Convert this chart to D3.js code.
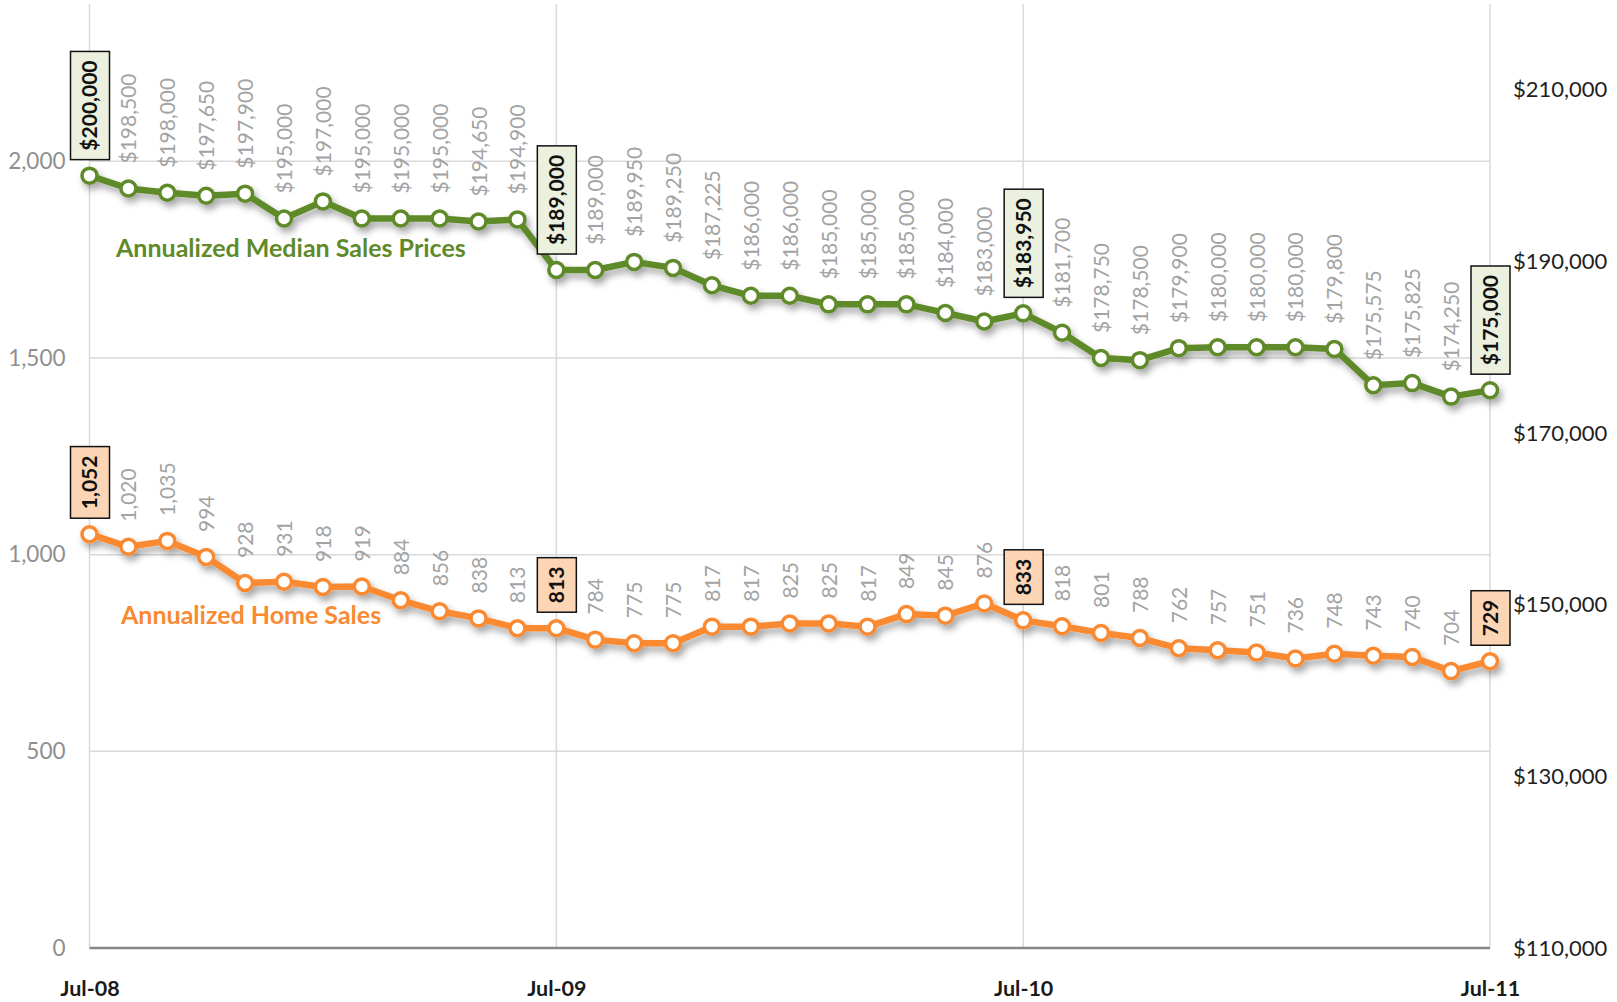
<!DOCTYPE html>
<html>
<head>
<meta charset="utf-8">
<script src="https://cdn.jsdelivr.net/npm/d3@7"></script>
<style>
  body { margin: 0; background: #fff; }
  svg { display: block; font-family: Lato, "Open Sans", sans-serif; }
</style>
</head>
<body>
<div class="chart"></div>
<script>
// monthly points, Jul-08 .. Jul-11
var months = d3.timeMonth.range(new Date(2008, 6, 1), new Date(2011, 7, 1));

var prices = [200000, 198500, 198000, 197650, 197900, 195000, 197000, 195000, 195000, 195000, 194650, 194900,
              189000, 189000, 189950, 189250, 187225, 186000, 186000, 185000, 185000, 185000, 184000, 183000,
              183950, 181700, 178750, 178500, 179900, 180000, 180000, 180000, 179800, 175575, 175825, 174250,
              175000];

var sales = [1052, 1020, 1035, 994, 928, 931, 918, 919, 884, 856, 838, 813,
             813, 784, 775, 775, 817, 817, 825, 825, 817, 849, 845, 876,
             833, 818, 801, 788, 762, 757, 751, 736, 748, 743, 740, 704,
             729];

// points with a boxed label
var boxed = [0, 12, 24, 36];

var leftTicks = [0, 500, 1000, 1500, 2000];
var rightTicks = [110000, 130000, 150000, 170000, 190000, 210000];
var xTicks = [months[0], months[12], months[24], months[36]];

var seriesNames = ["Annualized Median Sales Prices", "Annualized Home Sales"];

drawChart();

function drawChart(){

    var w = 1617, h = 1002;
    var left = 89.5, right = 1490, top = 4, bottom = 948;

    var green = "#5f8a29", orange = "#f98a32";

    var svg = d3.select("div.chart")
              .append("svg")
              .attr("width", w)
              .attr("height", h);

    //soft shadow under the lines
    var f = svg.append("defs").append("filter")
        .attr("id", "shadow")
        .attr("x", "-5%").attr("y", "-20%")
        .attr("width", "110%").attr("height", "140%");
    f.append("feDropShadow")
        .attr("dx", 3).attr("dy", 5)
        .attr("stdDeviation", 3.5)
        .attr("flood-color", "#000")
        .attr("flood-opacity", 0.35);

    var x = d3.scalePoint().domain(months).range([left, right]);
    var yL = d3.scaleLinear().domain([0, 2400]).range([bottom, top]);
    var yR = d3.scaleLinear().domain([110000, 220000]).range([bottom, top]);

    //gridlines
    svg.append("g").selectAll("line.h")
        .data(leftTicks.filter(d => d > 0))
        .enter().append("line")
            .attr("x1", left).attr("x2", right)
            .attr("y1", d => yL(d)).attr("y2", d => yL(d))
            .attr("stroke", "#d9d9d9").attr("stroke-width", 1.5);

    svg.append("g").selectAll("line.v")
        .data(xTicks)
        .enter().append("line")
            .attr("x1", d => x(d)).attr("x2", d => x(d))
            .attr("y1", top).attr("y2", bottom)
            .attr("stroke", "#d9d9d9").attr("stroke-width", 1.5);

    //axes
    var axL = svg.append("g")
        .attr("transform", `translate(${left},0)`)
        .call(d3.axisLeft(yL).tickValues(leftTicks).tickSize(0).tickPadding(24).tickFormat(d3.format(",")));
    axL.select(".domain").remove();
    axL.selectAll("text").attr("fill", "#8f8f8f").style("font-size", "22.5px").style("font-family", "Lato");

    var axR = svg.append("g")
        .attr("transform", `translate(${right},0)`)
        .call(d3.axisRight(yR).tickValues(rightTicks).tickSize(0).tickPadding(23).tickFormat(d3.format("$,")));
    axR.select(".domain").remove();
    axR.selectAll("text").attr("fill", "#1f1f1f").style("font-size", "22px").style("font-family", "Lato");

    var axB = svg.append("g")
        .attr("transform", `translate(0,${bottom})`)
        .call(d3.axisBottom(x).tickValues(xTicks).tickSize(0).tickFormat(d3.timeFormat("%b-%y")));
    axB.select(".domain").remove();
    axB.selectAll("text")
        .attr("y", 48).attr("dy", 0)
        .attr("fill", "#1a1a1a")
        .style("font-size", "21.5px").style("font-weight", "bold").style("font-family", "Lato");

    svg.append("line")
        .attr("x1", left).attr("x2", right)
        .attr("y1", bottom).attr("y2", bottom)
        .attr("stroke", "#868686").attr("stroke-width", 2.5);

    drawSeries(svg, prices, d => yR(d), green, "#ebf1de", d3.format("$,"));
    drawSeries(svg, sales, d => yL(d), orange, "#fcd5b5", d3.format(","));

    //series names
    svg.append("text")
        .attr("x", 116).attr("y", 257)
        .attr("fill", green)
        .style("font-size", "25px").style("font-weight", "bold")
        .text(seriesNames[0]);

    svg.append("text")
        .attr("x", 121).attr("y", 624)
        .attr("fill", orange)
        .style("font-size", "25px").style("font-weight", "bold")
        .text(seriesNames[1]);

    function drawSeries(svg, values, yf, color, boxFill, fmt){
        var g = svg.append("g").attr("filter", "url(#shadow)");

        var line = d3.line()
            .x((d, i) => x(months[i]))
            .y(d => yf(d));

        g.append("path")
            .datum(values)
            .attr("d", line)
            .attr("fill", "none")
            .attr("stroke", color)
            .attr("stroke-width", 6.5)
            .attr("stroke-linejoin", "round");

        g.selectAll("circle")
            .data(values)
            .enter().append("circle")
                .attr("cx", (d, i) => x(months[i]))
                .attr("cy", d => yf(d))
                .attr("r", 7.5)
                .attr("fill", "#fff")
                .attr("stroke", color)
                .attr("stroke-width", 3.5);

        //value labels, rotated
        var lg = svg.append("g");
        values.forEach(function(d, i){
            var px = x(months[i]), py = yf(d) - 25;
            var isBox = boxed.indexOf(i) >= 0;
            var box = isBox ? lg.append("rect") : null;
            var t = lg.append("text")
                .attr("transform", `translate(${px},${py}) rotate(-90)`)
                .attr("dy", "0.38em")
                .attr("fill", isBox ? "#111" : "#a3a3a3")
                .style("font-size", "21px")
                .style("font-weight", isBox ? "bold" : "normal")
                .text(fmt(d));
            if(isBox){
                var len = t.node().getComputedTextLength();
                box.attr("x", px - 19)
                    .attr("y", py - len - 9)
                    .attr("width", 39)
                    .attr("height", len + 18)
                    .attr("fill", boxFill)
                    .attr("stroke", "#111")
                    .attr("stroke-width", 1.5);
            }
        });
    }
}
</script>
</body>
</html>
